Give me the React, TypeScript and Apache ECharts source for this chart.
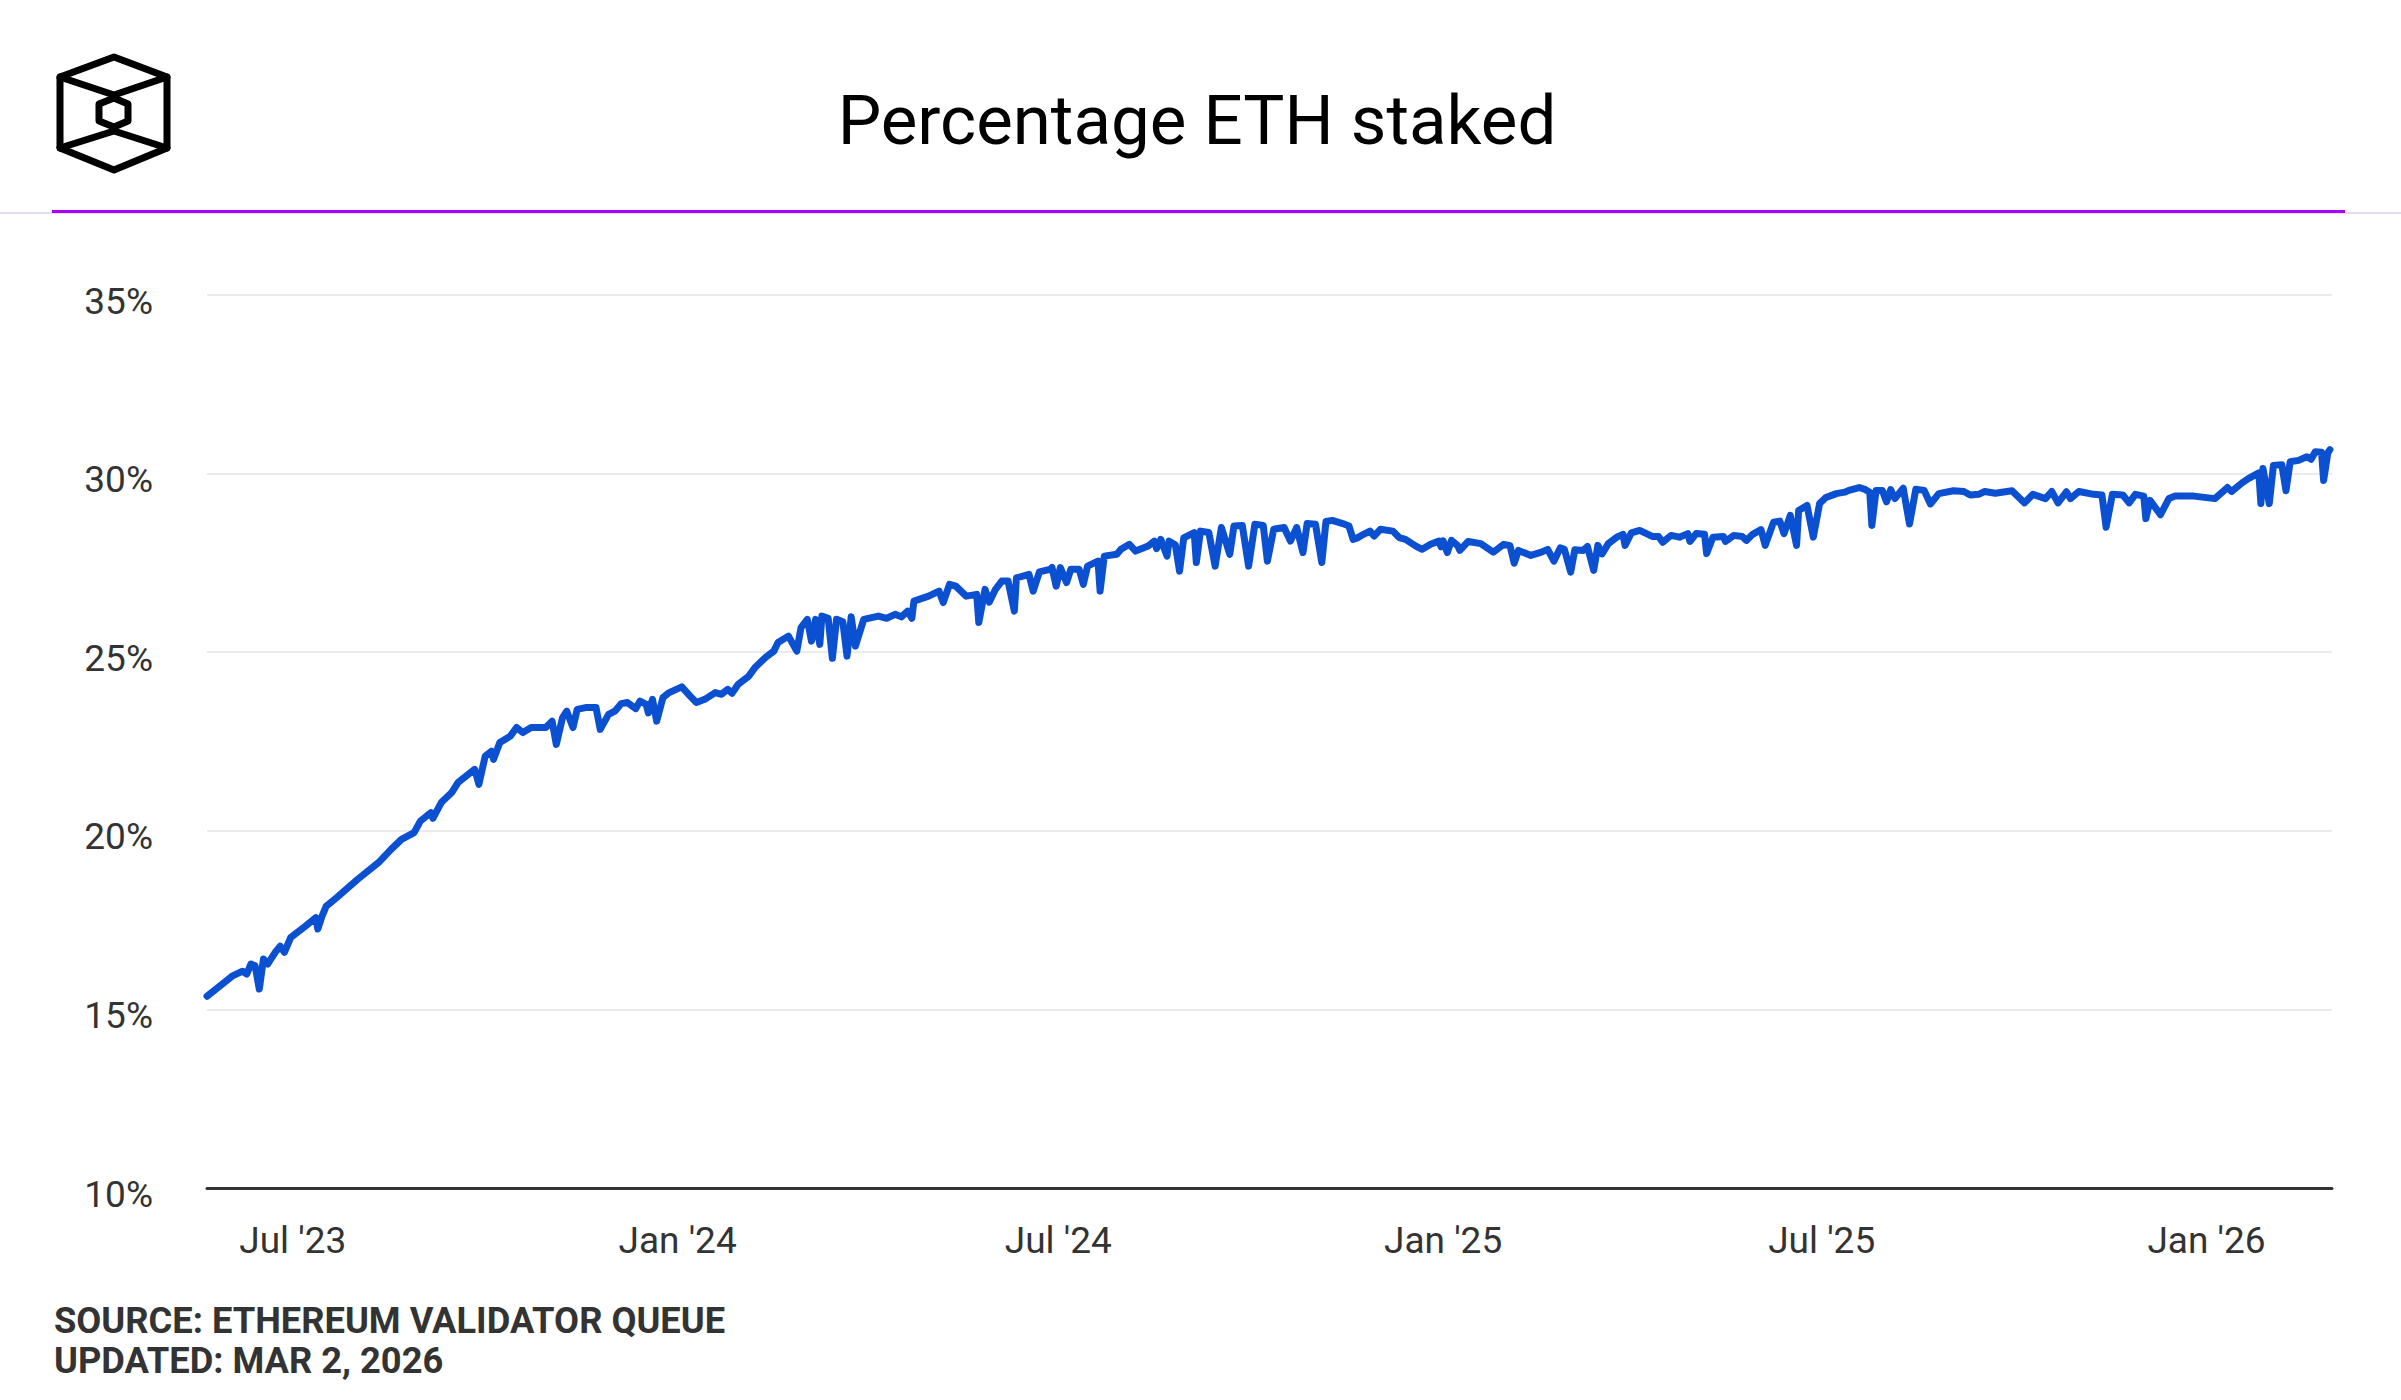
import React, { useEffect, useRef } from "react";
import * as echarts from "echarts";

const TITLE = "Percentage ETH staked";
const SOURCE_LINES = ["SOURCE: ETHEREUM VALIDATOR QUEUE", "UPDATED: MAR 2, 2026"];

const Y_MIN = 10;
const Y_MAX = 35;
const Y_STEP = 5;

const X_MIN = "2023-05-21";
const X_MAX = "2026-03-02";
const X_TICKS = ["2023-07-01", "2024-01-01", "2024-07-01", "2025-01-01", "2025-07-01", "2026-01-01"];
const MONTHS = ["Jan", "Feb", "Mar", "Apr", "May", "Jun", "Jul", "Aug", "Sep", "Oct", "Nov", "Dec"];

const DATES = [
  "2023-05-21","2023-05-27","2023-06-02","2023-06-07","2023-06-09","2023-06-11","2023-06-13","2023-06-15","2023-06-17","2023-06-19",
  "2023-06-23","2023-06-25","2023-06-27","2023-06-30","2023-07-07","2023-07-12","2023-07-13","2023-07-15","2023-07-17","2023-07-22",
  "2023-08-01","2023-08-11","2023-08-17","2023-08-22","2023-08-28","2023-08-31","2023-09-05","2023-09-06","2023-09-10","2023-09-15",
  "2023-09-18","2023-09-26","2023-09-28","2023-10-01","2023-10-04","2023-10-05","2023-10-08","2023-10-13","2023-10-16","2023-10-19",
  "2023-10-23","2023-10-30","2023-11-02","2023-11-04","2023-11-07","2023-11-09","2023-11-12","2023-11-14","2023-11-18","2023-11-23",
  "2023-11-25","2023-11-29","2023-12-02","2023-12-05","2023-12-08","2023-12-12","2023-12-14","2023-12-17","2023-12-18","2023-12-20",
  "2023-12-22","2023-12-25","2023-12-28","2024-01-03","2024-01-07","2024-01-10","2024-01-14","2024-01-19","2024-01-22","2024-01-25",
  "2024-01-27","2024-01-30","2024-02-04","2024-02-07","2024-02-12","2024-02-16","2024-02-18","2024-02-23","2024-02-27","2024-02-29",
  "2024-03-03","2024-03-05","2024-03-07","2024-03-09","2024-03-10","2024-03-13","2024-03-15","2024-03-17","2024-03-20","2024-03-22",
  "2024-03-24","2024-03-26","2024-03-30","2024-04-06","2024-04-10","2024-04-14","2024-04-17","2024-04-20","2024-04-22","2024-04-23",
  "2024-04-30","2024-05-05","2024-05-07","2024-05-10","2024-05-13","2024-05-18","2024-05-23","2024-05-24","2024-05-27","2024-05-29",
  "2024-06-01","2024-06-04","2024-06-07","2024-06-10","2024-06-11","2024-06-17","2024-06-19","2024-06-22","2024-06-27","2024-06-28",
  "2024-06-30","2024-07-02","2024-07-05","2024-07-07","2024-07-11","2024-07-13","2024-07-15","2024-07-20","2024-07-21","2024-07-23",
  "2024-07-29","2024-07-31","2024-08-04","2024-08-07","2024-08-13","2024-08-16","2024-08-17","2024-08-19","2024-08-22","2024-08-23",
  "2024-08-26","2024-08-28","2024-08-30","2024-09-04","2024-09-05","2024-09-07","2024-09-11","2024-09-14","2024-09-17","2024-09-21",
  "2024-09-23","2024-09-27","2024-09-30","2024-10-03","2024-10-07","2024-10-09","2024-10-12","2024-10-17","2024-10-20","2024-10-23",
  "2024-10-26","2024-10-28","2024-11-01","2024-11-04","2024-11-06","2024-11-09","2024-11-14","2024-11-17","2024-11-19","2024-11-21",
  "2024-11-24","2024-11-27","2024-11-29","2024-12-02","2024-12-08","2024-12-11","2024-12-14","2024-12-19","2024-12-22","2024-12-26",
  "2024-12-30","2024-12-31","2025-01-01","2025-01-03","2025-01-05","2025-01-08","2025-01-09","2025-01-13","2025-01-19","2025-01-25",
  "2025-01-30","2025-02-02","2025-02-04","2025-02-06","2025-02-12","2025-02-17","2025-02-20","2025-02-23","2025-02-26","2025-02-28",
  "2025-03-03","2025-03-05","2025-03-09","2025-03-11","2025-03-14","2025-03-16","2025-03-18","2025-03-21","2025-03-25","2025-03-28",
  "2025-03-29","2025-04-01","2025-04-05","2025-04-11","2025-04-14","2025-04-16","2025-04-20","2025-04-24","2025-04-28","2025-04-29",
  "2025-05-02","2025-05-06","2025-05-07","2025-05-10","2025-05-15","2025-05-16","2025-05-20","2025-05-24","2025-05-26","2025-05-29",
  "2025-06-02","2025-06-04","2025-06-08","2025-06-11","2025-06-13","2025-06-16","2025-06-19","2025-06-20","2025-06-24","2025-06-27",
  "2025-06-30","2025-07-03","2025-07-08","2025-07-12","2025-07-14","2025-07-19","2025-07-22","2025-07-24","2025-07-25","2025-07-27",
  "2025-07-30","2025-08-01","2025-08-03","2025-08-05","2025-08-09","2025-08-12","2025-08-15","2025-08-19","2025-08-22","2025-08-26",
  "2025-09-02","2025-09-07","2025-09-10","2025-09-14","2025-09-17","2025-09-22","2025-09-30","2025-10-06","2025-10-10","2025-10-16",
  "2025-10-19","2025-10-22","2025-10-26","2025-10-28","2025-11-01","2025-11-08","2025-11-12","2025-11-14","2025-11-17","2025-11-22",
  "2025-11-25","2025-11-28","2025-12-02","2025-12-03","2025-12-05","2025-12-10","2025-12-14","2025-12-17","2025-12-26","2026-01-05",
  "2026-01-11","2026-01-13","2026-01-18","2026-01-21","2026-01-26","2026-01-27","2026-01-28","2026-01-31","2026-02-02","2026-02-06",
  "2026-02-08","2026-02-10","2026-02-14","2026-02-18","2026-02-20","2026-02-22","2026-02-25","2026-02-26","2026-02-28","2026-03-01",
];

const STAKED_PCT = [
  15.37,15.65,15.93,16.07,15.99,16.27,16.22,15.57,16.41,16.27,
  16.63,16.77,16.6,17.01,17.33,17.57,17.25,17.61,17.89,18.13,
  18.64,19.11,19.48,19.76,19.95,20.27,20.51,20.35,20.79,21.07,
  21.35,21.72,21.3,22.09,22.23,22.0,22.47,22.65,22.89,22.75,
  22.89,22.89,23.07,22.42,23.17,23.35,22.89,23.4,23.45,23.45,
  22.84,23.26,23.35,23.56,23.59,23.42,23.63,23.54,23.3,23.68,
  23.07,23.73,23.87,24.03,23.77,23.59,23.68,23.87,23.82,23.96,
  23.85,24.1,24.33,24.57,24.85,25.03,25.27,25.45,25.03,25.69,
  25.92,25.31,25.92,25.22,26.01,25.95,24.83,25.92,25.85,24.89,
  25.99,25.17,25.92,26.01,25.95,26.06,25.99,26.15,25.95,26.43,
  26.57,26.71,26.39,26.9,26.85,26.57,26.62,25.83,26.76,26.4,
  26.76,26.99,26.99,26.15,27.08,27.18,26.71,27.25,27.32,27.37,
  26.85,27.37,26.95,27.32,27.32,26.9,27.41,27.55,26.71,27.69,
  27.74,27.88,28.02,27.83,27.97,28.11,27.9,28.16,27.69,28.11,
  28.0,27.27,28.2,28.35,27.51,28.39,28.35,27.41,28.49,27.74,
  28.53,28.55,27.41,28.58,28.55,27.55,28.44,28.49,28.11,28.49,
  27.79,28.6,28.58,27.51,28.66,28.69,28.6,28.53,28.16,28.2,
  28.3,28.39,28.25,28.44,28.39,28.21,28.16,27.97,27.88,28.02,
  28.11,27.95,28.12,27.79,28.13,27.98,27.85,28.1,28.04,27.8,
  28.02,27.98,27.49,27.85,27.71,27.8,27.88,27.55,27.92,27.88,
  27.24,27.87,27.85,27.96,27.29,27.99,27.75,28.04,28.22,28.3,
  27.99,28.34,28.41,28.24,28.24,28.08,28.27,28.22,28.32,28.1,
  28.32,28.3,27.76,28.22,28.24,28.1,28.27,28.24,28.13,28.3,
  28.43,27.99,28.64,28.67,28.32,28.83,27.99,28.97,29.11,28.22,
  29.16,29.33,29.44,29.48,29.53,29.61,29.55,29.48,28.55,29.53,
  29.53,29.21,29.55,29.3,29.59,28.59,29.56,29.53,29.15,29.44,
  29.52,29.5,29.4,29.42,29.5,29.45,29.52,29.18,29.42,29.3,
  29.5,29.18,29.49,29.3,29.5,29.42,29.4,28.5,29.42,29.4,
  29.18,29.42,29.37,28.74,29.25,28.85,29.3,29.37,29.37,29.3,
  29.61,29.5,29.74,29.86,30.02,29.16,30.14,29.16,30.23,30.25,
  29.52,30.33,30.37,30.47,30.4,30.61,30.6,29.81,30.58,30.67,
];

const FONT = "Roboto, 'Noto Sans', sans-serif";

function App() {
  const ref = useRef<HTMLDivElement>(null);

  useEffect(() => {
    if (!ref.current) return;
    const chart = echarts.init(ref.current, null, { renderer: "svg" });
    const seriesData = DATES.map((d, i) => [Date.parse(d), STAKED_PCT[i]]);
    const tickValues = X_TICKS.map((d) => Date.parse(d));

    const logoStyle = { stroke: "#000", lineWidth: 7, fill: "none", lineJoin: "round", lineCap: "round" };
    const sourceStyle = {
      fontSize: 36.3,
      fontWeight: "bold",
      fontFamily: FONT,
      fill: "#333333",
      textAlign: "left",
      textVerticalAlign: "middle",
    };

    chart.setOption({
      animation: false,
      backgroundColor: "#ffffff",
      textStyle: { fontFamily: FONT },
      grid: { left: 207, right: 69, top: 295, bottom: 212, containLabel: false },
      xAxis: {
        type: "value",
        min: Date.parse(X_MIN),
        max: Date.parse(X_MAX),
        axisLine: { show: true, lineStyle: { color: "#333333", width: 3 } },
        axisTick: { show: false },
        splitLine: { show: false },
        axisLabel: {
          customValues: tickValues,
          fontSize: 37,
          color: "#333333",
          fontFamily: FONT,
          margin: 34,
          formatter: (v: number) => {
            const d = new Date(v);
            return MONTHS[d.getUTCMonth()] + " '" + String(d.getUTCFullYear()).slice(2);
          },
        },
      },
      yAxis: {
        type: "value",
        min: Y_MIN,
        max: Y_MAX,
        interval: Y_STEP,
        axisLine: { show: false },
        axisTick: { show: false },
        splitLine: { show: true, lineStyle: { color: "#ebebeb", width: 2 } },
        axisLabel: {
          formatter: "{value}%",
          fontSize: 37,
          color: "#333333",
          fontFamily: FONT,
          margin: 54,
          verticalAlign: "top",
          lineHeight: 12,
        },
      },
      series: [
        {
          type: "line",
          data: seriesData,
          showSymbol: false,
          symbol: "none",
          lineStyle: { color: "#0c50d2", width: 7, join: "round", cap: "round" },
          z: 3,
        },
      ],
      graphic: [
        {
          type: "line",
          shape: { x1: 0, y1: 213, x2: 2401, y2: 213 },
          style: { stroke: "#e4dcef", lineWidth: 2 },
        },
        {
          type: "line",
          shape: { x1: 52, y1: 211.5, x2: 2345, y2: 211.5 },
          style: { stroke: "#aa00ff", lineWidth: 3 },
        },
        {
          type: "text",
          x: 1197,
          y: 120,
          style: {
            text: TITLE,
            fontSize: 69,
            fontFamily: FONT,
            fill: "#000000",
            textAlign: "center",
            textVerticalAlign: "middle",
          },
        },
        {
          type: "polygon",
          shape: { points: [[114, 57], [167, 77], [167, 148], [114, 170], [60, 148], [60, 77]] },
          style: logoStyle,
        },
        {
          type: "polyline",
          shape: { points: [[60, 77], [114, 95], [167, 77]] },
          style: logoStyle,
        },
        {
          type: "polyline",
          shape: { points: [[60, 148], [114, 131], [167, 148]] },
          style: logoStyle,
        },
        {
          type: "polygon",
          shape: { points: [[114, 98], [128, 104], [128, 121], [114, 127], [99, 121], [99, 104]] },
          style: logoStyle,
        },
        {
          type: "text",
          x: 54,
          y: 1320,
          style: { ...sourceStyle, text: SOURCE_LINES[0] },
        },
        {
          type: "text",
          x: 54,
          y: 1360,
          style: { ...sourceStyle, text: SOURCE_LINES[1] },
        },
      ],
    });

    return () => chart.dispose();
  }, []);

  return (
    <div
      ref={ref}
      style={{ position: "absolute", left: 0, top: 0, width: 2401, height: 1400 }}
    />
  );
}

export default App;
